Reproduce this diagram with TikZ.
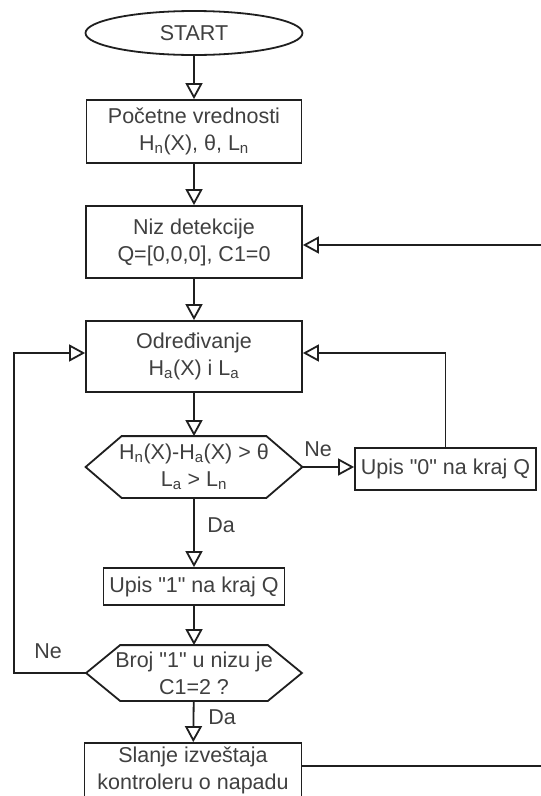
\documentclass[tikz,border=0pt]{standalone}
\usepackage{fontspec}
\setmainfont{Liberation Sans}[Ligatures=TeXOff]
\usetikzlibrary{arrows.meta,shapes.geometric,calc}
\definecolor{ln}{gray}{0.12}
\definecolor{tx}{gray}{0.25}
\newcommand{\sbx}[1]{\textsubscript{#1}}
\begin{document}
\begin{tikzpicture}[x=1pt,y=-1pt,
  base/.style={line width=1.8pt, draw=ln, text=tx, align=center, inner sep=0pt,
    font=\fontsize{21.5}{27}\selectfont},
  box/.style={base, rectangle},
  term/.style={base, ellipse},
  hexn/.style={base, rectangle, draw=none},
  hexline/.style={line width=1.8pt, draw=ln, line join=miter},
  lbl/.style={text=tx, inner sep=0pt, font=\fontsize{21.5}{27}\selectfont},
  arr/.style={line width=1.8pt, draw=ln, -{Triangle[open, length=16pt, width=17pt]}},
  plain/.style={line width=1.8pt, draw=ln}]
\useasboundingbox (0,0) rectangle (541,796);
\fill[white] (0,0) rectangle (541,796);
\clip (0,0) rectangle (541,796);

\node[term, minimum width=217pt, minimum height=44pt] (start) at (194,33) {START};
\node[box, minimum width=215pt, minimum height=63pt] (box1) at (194,131.5) {Početne vrednosti\\H\sbx{n}(X), θ, L\sbx{n}};
\node[box, minimum width=216pt, minimum height=72pt] (box2) at (194,242) {Niz detekcije\\Q=[0,0,0], C1=0};
\node[box, minimum width=216pt, minimum height=71pt] (box3) at (194,356.5) {Određivanje\\H\sbx{a}(X) i L\sbx{a}};
\node[hexn, minimum width=215pt, minimum height=60pt] (hex1) at (194,467) {H\sbx{n}(X)-H\sbx{a}(X) > θ\\L\sbx{a} > L\sbx{n}};
\draw[hexline] (hex1.west) -- ([xshift=36pt]hex1.north west) -- ([xshift=-36pt]hex1.north east) -- (hex1.east) -- ([xshift=-36pt]hex1.south east) -- ([xshift=36pt]hex1.south west) -- cycle;
\node[box, minimum width=181pt, minimum height=42pt] (up0) at (445.5,469) {Upis "0" na kraj Q};
\node[box, minimum width=181pt, minimum height=37pt] (up1) at (194,586.5) {Upis "1" na kraj Q};
\node[hexn, minimum width=214pt, minimum height=54pt] (hex2) at (194,673) {Broj "1" u nizu je\\C1=2 ?};
\draw[hexline] (hex2.west) -- ([xshift=34pt]hex2.north west) -- ([xshift=-34pt]hex2.north east) -- (hex2.east) -- ([xshift=-34pt]hex2.south east) -- ([xshift=34pt]hex2.south west) -- cycle;
\node[box, minimum width=217pt, minimum height=54pt] (fin) at (193,770) {Slanje izveštaja\\kontroleru o napadu};

\node[lbl] (ne1) at (318,449) {Ne};
\node[lbl] (da1) at (221,525) {Da};
\node[lbl] (ne2) at (48,651) {Ne};
\node[lbl] (da2) at (222,717) {Da};

\coordinate (lc) at (14,673);
\coordinate (rc) at (560,766);

\draw[arr] (start) -- (box1);
\draw[arr] (box1) -- (box2);
\draw[arr] (box2) -- (box3);
\draw[arr] (box3) -- (hex1);
\draw[arr] (hex1) -- (up1);
\draw[arr] (up1) -- (hex2);
\draw[arr] (hex2) -- (fin);
\draw[arr] (hex1.east) -- (hex1.east -| up0.west);
\draw[arr] (up0.north) |- ($(box3.east)+(0,-3.5)$);
\draw[arr] (hex2.west) -- (lc) |- ($(box3.west)+(0,-3.5)$);
\draw[arr] (fin.east |- rc) -- (rc) |- ($(box2.east)+(0,3)$);
\end{tikzpicture}
\end{document}
